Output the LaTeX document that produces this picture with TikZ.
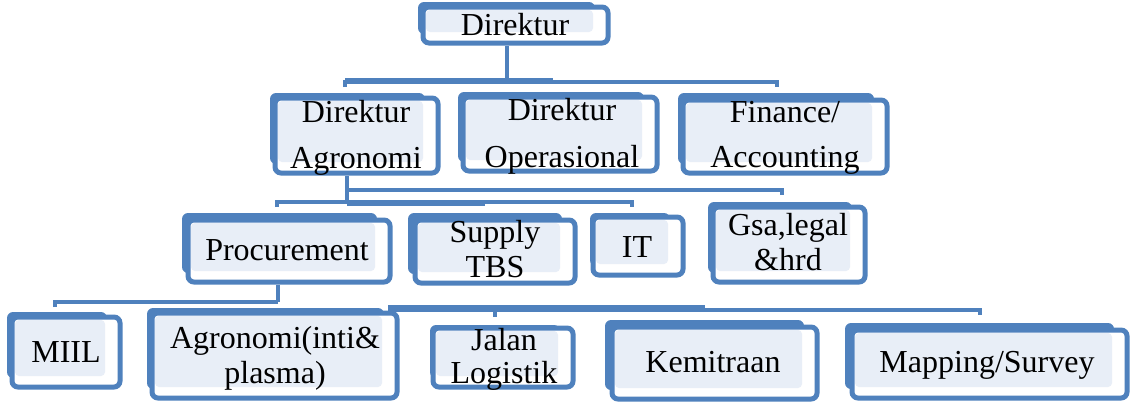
\documentclass[tikz,border=0pt]{standalone}
\usepackage{fontspec}
\setmainfont{Liberation Serif}
\definecolor{obl}{RGB}{79,129,189}
\definecolor{olt}{RGB}{232,238,247}
\tikzset{
  conn/.style={draw=obl, line width=2.4pt},
  frontbox/.style={rectangle, draw=obl, line width=2.5pt, fill=white, rounded corners=3pt, inner sep=0pt},
  lbl/.style={anchor=base, inner sep=0pt, font=\fontsize{16}{16}\selectfont},
}
% name, left, top, right, bottom, dx, dy  (pixel units, y downwards)
\newcommand{\orgbox}[7]{%
  \fill[obl, rounded corners=3pt] ({#2-#6},{#3-#7}) rectangle ({#4-13},{#5-9});
  \node[frontbox, minimum width={(#4-#2)*0.5pt}, minimum height={(#5-#3)*0.5pt}] (#1) at ({(#2+#4)/2},{(#3+#5)/2}) {};
  \fill[olt, rounded corners=2pt] ({#2+3},{#3+3}) rectangle ({#4-15},{#5-11});
}
\newcommand{\twoline}[3]{\begin{tabular}[t]{@{}c@{}}#1\\[#3]#2\end{tabular}}
\begin{document}
\begin{tikzpicture}[x=0.5pt,y=-0.5pt]
\useasboundingbox (0,0) rectangle (1134,402);
% boxes
\orgbox{dir}{423}{7}{608}{43}{5}{5}
\orgbox{dagr}{275}{98}{438}{173}{5}{5}
\orgbox{dops}{463}{97}{657}{171}{5}{5}
\orgbox{fin}{683}{100}{887}{173}{5}{7}
\orgbox{proc}{188}{220}{390}{282}{6}{7}
\orgbox{sup}{415}{220}{575}{283}{7}{7}
\orgbox{it}{593}{217}{683}{275}{3}{4}
\orgbox{gsa}{713}{207}{865}{282}{5}{5}
\orgbox{miil}{12}{317}{120}{387}{5}{5}
\orgbox{agr}{152}{313}{397}{398}{5}{5}
\orgbox{jal}{433}{328}{573}{387}{3}{3}
\orgbox{kem}{612}{327}{817}{399}{7}{7}
\orgbox{map}{852}{330}{1127}{398}{7}{7}
% texts
\node[lbl] (tdir) at (515,35) {Direktur};
\node[lbl] (tdagr) at (356,122) {\twoline{Direktur}{Agronomi}{7pt}};
\node[lbl] (tdops) at (562,120) {\twoline{Direktur}{Operasional}{7.5pt}};
\node[lbl] (tfin) at (785,122) {\twoline{Finance/}{Accounting}{6.5pt}};
\node[lbl] (tproc) at (287,260) {Procurement};
\node[lbl] (tsup) at (495,242) {\twoline{Supply}{TBS}{1.5pt}};
\node[lbl] (tit) at (637,257) {IT};
\node[lbl] (tgsa) at (788,235) {\twoline{Gsa,legal}{\&hrd}{1.5pt}};
\node[lbl] (tmiil) at (66,362) {MIIL};
\node[lbl] (tagr) at (275,348) {\twoline{Agronomi(inti\&}{plasma)}{1.5pt}};
\node[lbl] (tjal) at (504,350) {\twoline{Jalan}{Logistik}{0.5pt}};
\node[lbl] (tkem) at (713,372) {Kemitraan};
\node[lbl] (tmap) at (987,372) {Mapping/Survey};
% level 1 connectors
\coordinate (b1m) at (507,82);
\coordinate (b1l) at (345,82);
\coordinate (b1r) at (777,82);
\coordinate (b1lt) at (345,87);
\coordinate (b1rt) at (777,87);
\coordinate (b1s1) at (345,80);
\coordinate (b1s2) at (553,80);
\draw[conn] (dir.south -| b1m) -- (b1m);
\draw[conn] (b1lt) -- (b1l) -- (b1r) -- (b1rt);
\draw[conn] (b1s1) -- (b1s2);
% level 2 connectors
\coordinate (v2) at (347,202);
\coordinate (a1) at (347,190);
\coordinate (a2) at (782,190);
\coordinate (a3) at (782,195);
\coordinate (c0) at (277,207);
\coordinate (c1) at (277,202);
\coordinate (c2) at (632,202);
\coordinate (c3) at (632,207);
\coordinate (cs1) at (347,204);
\coordinate (cs2) at (485,204);
\draw[conn] (dagr.south -| v2) -- (v2);
\draw[conn] (a1) -- (a2) -- (a3);
\draw[conn] (c0) -- (c1) -- (c2) -- (c3);
\draw[conn] (cs1) -- (cs2);
% level 3 connectors
\coordinate (v3) at (278,302);
\coordinate (d0) at (55,307);
\coordinate (d1) at (55,302);
\coordinate (e1) at (388,307);
\coordinate (e2) at (705,307);
\coordinate (f1) at (388,310);
\coordinate (f2) at (980,310);
\coordinate (f3) at (980,315);
\coordinate (g1) at (495,308);
\coordinate (g2) at (495,317);
\draw[conn] (proc.south -| v3) -- (v3);
\draw[conn] (d0) -- (d1) -- (v3);
\draw[conn] (e1) -- (e2);
\draw[conn] (f1) -- (f2) -- (f3);
\draw[conn] (g1) -- (g2);
\end{tikzpicture}
\end{document}
